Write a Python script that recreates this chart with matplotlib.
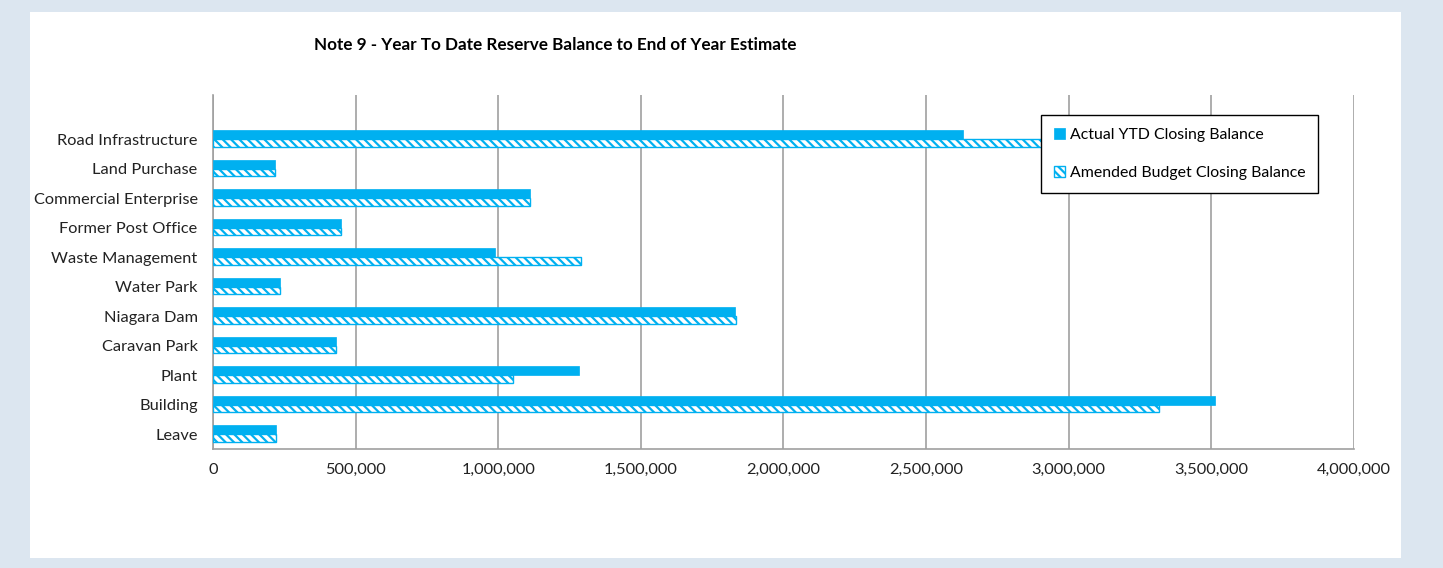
import matplotlib.pyplot as plt
import matplotlib.patches as mpatches
import numpy as np
from matplotlib.ticker import FuncFormatter

# Datos (de arriba hacia abajo)
categorias = ['Road Infrastructure', 'Land Purchase', 'Commercial Enterprise', 'Former Post Office',
              'Waste Management', 'Water Park', 'Niagara Dam', 'Caravan Park', 'Plant', 'Building', 'Leave']
actual_ytd = [2629000, 217000, 1111000, 449000, 989000, 235000, 1830000, 431000, 1283000, 3513000, 221000]
amended_budget = [3100000, 217000, 1111000, 449000, 1290000, 235000, 1833000, 431000, 1052000, 3316000, 221000]

azul = '#00b0f0'
plt.rcParams['font.family'] = ['Lato', 'DejaVu Sans']
plt.rcParams['hatch.linewidth'] = 1.6

fig = plt.figure(figsize=(14.43, 5.68), dpi=100)
fig.patch.set_facecolor('#dce6f0')
fig.add_artist(mpatches.Rectangle((30 / 1443, 10 / 568), 1371 / 1443, 546 / 568,
                                  transform=fig.transFigure, facecolor='white', edgecolor='none', zorder=0))

ax = fig.add_axes([213 / 1443, 1 - 449 / 568, 1141 / 1443, 354 / 568])
ax.set_facecolor('none')

y = np.arange(len(categorias))[::-1]
alto = 0.3
ax.barh(y + alto / 2, actual_ytd, height=alto, color=azul, edgecolor=azul, linewidth=0.5,
        label='Actual YTD Closing Balance', zorder=3)
ax.barh(y - alto / 2 + 0.02, amended_budget, height=alto - 0.04, color='white', edgecolor=azul,
        hatch='\\\\\\\\', linewidth=1.0, label='Amended Budget Closing Balance', zorder=3)

ax.set_xlim(0, 4000000)
ax.set_ylim(-0.5, len(categorias) + 0.5)
ax.set_xticks(np.arange(0, 4000001, 500000))
ax.xaxis.set_major_formatter(FuncFormatter(lambda v, p: f'{int(v):,}'))
ax.set_yticks(y)
ax.set_yticklabels(categorias)
ax.tick_params(axis='both', length=0, labelsize=11.8, colors='#222222')
ax.tick_params(axis='y', pad=11)
ax.tick_params(axis='x', pad=10)
ax.grid(axis='x', color='#a0a0a0', linewidth=1.2, zorder=0)
for lado in ['top', 'right']:
    ax.spines[lado].set_visible(False)
for lado in ['left', 'bottom']:
    ax.spines[lado].set_color('#a0a0a0')
    ax.spines[lado].set_linewidth(1.2)

leg = ax.legend(loc='upper left', bbox_to_anchor=((1041 - 213) / 1141, (449 - 115) / 354),
                frameon=True, fancybox=False, edgecolor='black', framealpha=1, fontsize=11.4,
                handlelength=0.7, handleheight=0.7, handletextpad=0.3, labelspacing=1.55,
                borderpad=0.8, borderaxespad=0)
leg.get_frame().set_linewidth(1.0)
leg.set_zorder(5)

fig.text(555 / 1443, 1 - 45 / 568, 'Note 9 - Year To Date Reserve Balance to End of Year Estimate',
         ha='center', va='center', fontsize=12.3, fontweight='bold')

plt.savefig('out.png', dpi=100)
plt.close()
